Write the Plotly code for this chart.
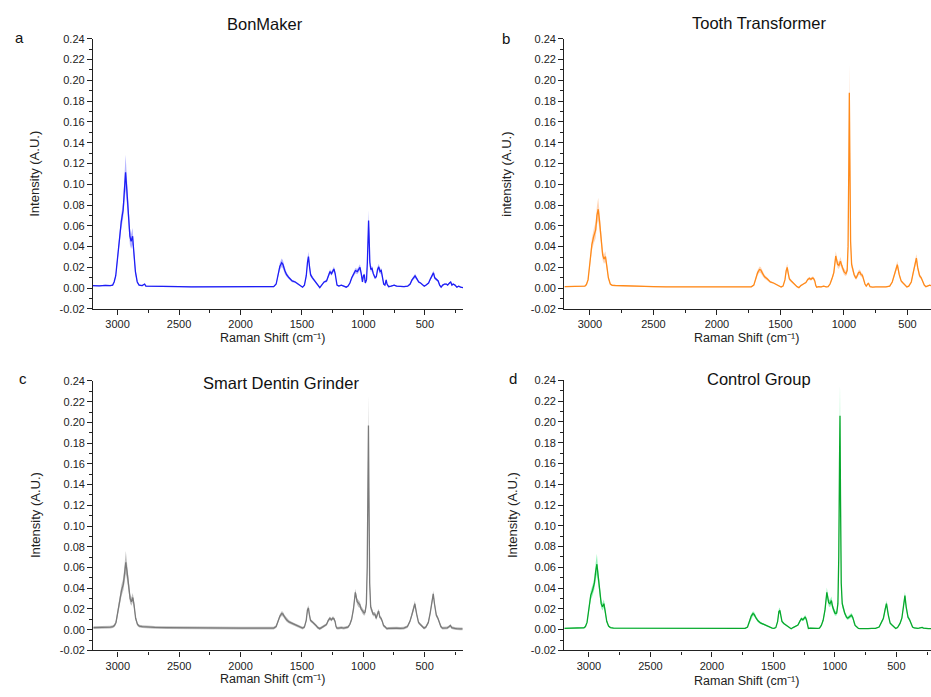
import plotly.graph_objects as go

# ---------------- data ----------------
wavenumber = [
    3200, 3150, 3100, 3060, 3040, 3028, 3015, 3000, 2985, 2970,
    2955, 2945, 2935, 2925, 2912, 2900, 2890, 2878, 2868, 2855,
    2840, 2825, 2800, 2780, 2770, 2700, 2600, 2500, 2400, 2300,
    2200, 2100, 2000, 1900, 1800, 1730, 1710, 1695, 1680, 1665,
    1655, 1640, 1625, 1605, 1580, 1555, 1530, 1510, 1495, 1480,
    1465, 1455, 1447, 1440, 1430, 1415, 1400, 1385, 1370, 1355,
    1340, 1320, 1300, 1285, 1272, 1260, 1250, 1240, 1230, 1222,
    1215, 1200, 1180, 1160, 1140, 1125, 1110, 1095, 1080, 1065,
    1050, 1040, 1028, 1018, 1008, 1000, 993, 985, 975, 968,
    962, 958, 954, 948, 940, 930, 920, 905, 895, 885,
    875, 865, 855, 845, 835, 825, 815, 808, 795, 775,
    750, 730, 700, 670, 640, 620, 605, 590, 580, 565,
    550, 535, 520, 505, 490, 470, 455, 440, 430, 420,
    405, 392, 380, 368, 355, 340, 325, 315, 300, 290,
    280, 270, 255, 240, 225, 210, 190,
]

bonmaker_mean = [
    0.0025, 0.0022, 0.0028, 0.0024, 0.0030, 0.0060, 0.0120, 0.0300, 0.0500, 0.0640,
    0.0750, 0.0950, 0.1115, 0.0950, 0.0700, 0.0500, 0.0450, 0.0500, 0.0350, 0.0160,
    0.0060, 0.0030, 0.0025, 0.0040, 0.0020, 0.0020, 0.0018, 0.0015, 0.0012, 0.0012,
    0.0015, 0.0015, 0.0015, 0.0015, 0.0013, 0.0015, 0.0040, 0.0120, 0.0210, 0.0245,
    0.0230, 0.0170, 0.0130, 0.0100, 0.0070, 0.0060, 0.0040, 0.0020, 0.0010, 0.0030,
    0.0120, 0.0250, 0.0305, 0.0220, 0.0130, 0.0100, 0.0080, 0.0050, 0.0030, 0.0005,
    0.0030, 0.0060, 0.0070, 0.0120, 0.0160, 0.0140, 0.0170, 0.0185, 0.0140, 0.0060,
    0.0030, 0.0020, 0.0030, 0.0020, 0.0010, 0.0020, 0.0050, 0.0100, 0.0140, 0.0170,
    0.0160, 0.0180, 0.0200, 0.0140, 0.0060, 0.0120, 0.0130, 0.0050, 0.0080, 0.0250,
    0.0500, 0.0650, 0.0500, 0.0250, 0.0180, 0.0190, 0.0140, 0.0100, 0.0110, 0.0180,
    0.0205, 0.0160, 0.0170, 0.0100, 0.0040, 0.0030, 0.0080, 0.0040, 0.0015, 0.0020,
    0.0030, 0.0020, 0.0015, 0.0015, 0.0020, 0.0040, 0.0080, 0.0110, 0.0118, 0.0090,
    0.0060, 0.0050, 0.0030, 0.0020, 0.0030, 0.0050, 0.0090, 0.0130, 0.0148, 0.0100,
    0.0080, 0.0070, 0.0030, 0.0010, 0.0030, 0.0040, 0.0040, 0.0030, 0.0050, 0.0060,
    0.0030, 0.0040, 0.0030, 0.0010, 0.0020, 0.0010, 0.0005,
]
bonmaker_sd = [
    0.0006, 0.0006, 0.0006, 0.0006, 0.0006, 0.0010, 0.0020, 0.0040, 0.0060, 0.0070,
    0.0080, 0.0120, 0.0170, 0.0130, 0.0100, 0.0080, 0.0070, 0.0080, 0.0060, 0.0030,
    0.0012, 0.0008, 0.0006, 0.0006, 0.0006, 0.0006, 0.0006, 0.0006, 0.0006, 0.0006,
    0.0006, 0.0006, 0.0006, 0.0006, 0.0006, 0.0006, 0.0008, 0.0020, 0.0035, 0.0040,
    0.0040, 0.0030, 0.0020, 0.0015, 0.0012, 0.0010, 0.0008, 0.0006, 0.0006, 0.0006,
    0.0020, 0.0040, 0.0045, 0.0035, 0.0020, 0.0015, 0.0012, 0.0010, 0.0008, 0.0006,
    0.0006, 0.0010, 0.0012, 0.0018, 0.0022, 0.0020, 0.0022, 0.0025, 0.0020, 0.0010,
    0.0006, 0.0006, 0.0006, 0.0006, 0.0006, 0.0006, 0.0010, 0.0015, 0.0020, 0.0025,
    0.0025, 0.0028, 0.0030, 0.0022, 0.0010, 0.0015, 0.0015, 0.0010, 0.0015, 0.0040,
    0.0070, 0.0100, 0.0070, 0.0040, 0.0025, 0.0025, 0.0020, 0.0015, 0.0015, 0.0025,
    0.0030, 0.0025, 0.0025, 0.0015, 0.0008, 0.0006, 0.0010, 0.0008, 0.0006, 0.0006,
    0.0006, 0.0006, 0.0006, 0.0006, 0.0006, 0.0008, 0.0012, 0.0018, 0.0020, 0.0015,
    0.0010, 0.0008, 0.0006, 0.0006, 0.0006, 0.0008, 0.0014, 0.0020, 0.0022, 0.0016,
    0.0012, 0.0010, 0.0006, 0.0006, 0.0006, 0.0008, 0.0008, 0.0006, 0.0008, 0.0010,
    0.0006, 0.0006, 0.0006, 0.0006, 0.0006, 0.0006, 0.0006,
]

tooth_mean = [
    0.0015, 0.0015, 0.0016, 0.0016, 0.0020, 0.0035, 0.0080, 0.0250, 0.0420, 0.0500,
    0.0560, 0.0700, 0.0760, 0.0650, 0.0450, 0.0320, 0.0280, 0.0305, 0.0220, 0.0100,
    0.0040, 0.0028, 0.0026, 0.0025, 0.0024, 0.0022, 0.0018, 0.0015, 0.0013, 0.0012,
    0.0012, 0.0012, 0.0012, 0.0012, 0.0012, 0.0013, 0.0030, 0.0090, 0.0150, 0.0180,
    0.0175, 0.0140, 0.0110, 0.0090, 0.0060, 0.0050, 0.0035, 0.0020, 0.0012, 0.0020,
    0.0080, 0.0170, 0.0200, 0.0150, 0.0090, 0.0070, 0.0050, 0.0030, 0.0015, 0.0005,
    0.0025, 0.0040, 0.0055, 0.0085, 0.0095, 0.0085, 0.0098, 0.0095, 0.0070, 0.0025,
    0.0010, 0.0015, 0.0012, 0.0020, 0.0012, 0.0015, 0.0040, 0.0090, 0.0150, 0.0310,
    0.0230, 0.0220, 0.0260, 0.0220, 0.0170, 0.0160, 0.0150, 0.0140, 0.0170, 0.0400,
    0.1200, 0.1880, 0.1300, 0.0450, 0.0230, 0.0185, 0.0130, 0.0095, 0.0120, 0.0150,
    0.0155, 0.0130, 0.0125, 0.0080, 0.0040, 0.0020, 0.0040, 0.0050, 0.0015, 0.0010,
    0.0012, 0.0010, 0.0012, 0.0012, 0.0020, 0.0060, 0.0120, 0.0200, 0.0227, 0.0130,
    0.0070, 0.0050, 0.0030, 0.0012, 0.0020, 0.0060, 0.0150, 0.0240, 0.0290, 0.0200,
    0.0120, 0.0100, 0.0060, 0.0030, 0.0015, 0.0020, 0.0030, 0.0025, 0.0020, 0.0015,
    0.0015, 0.0015, 0.0012, 0.0012, 0.0010, 0.0010, 0.0010,
]
tooth_sd = [
    0.0005, 0.0005, 0.0005, 0.0005, 0.0006, 0.0008, 0.0015, 0.0040, 0.0060, 0.0070,
    0.0080, 0.0090, 0.0110, 0.0090, 0.0070, 0.0050, 0.0045, 0.0050, 0.0035, 0.0015,
    0.0008, 0.0006, 0.0005, 0.0005, 0.0005, 0.0005, 0.0005, 0.0005, 0.0005, 0.0005,
    0.0005, 0.0005, 0.0005, 0.0005, 0.0005, 0.0005, 0.0008, 0.0015, 0.0025, 0.0030,
    0.0030, 0.0025, 0.0018, 0.0015, 0.0010, 0.0008, 0.0006, 0.0005, 0.0005, 0.0005,
    0.0012, 0.0030, 0.0035, 0.0025, 0.0015, 0.0012, 0.0008, 0.0006, 0.0005, 0.0005,
    0.0005, 0.0006, 0.0008, 0.0012, 0.0015, 0.0013, 0.0015, 0.0015, 0.0012, 0.0006,
    0.0005, 0.0005, 0.0005, 0.0005, 0.0005, 0.0005, 0.0008, 0.0015, 0.0025, 0.0045,
    0.0035, 0.0035, 0.0040, 0.0035, 0.0030, 0.0030, 0.0028, 0.0025, 0.0030, 0.0060,
    0.0180, 0.0280, 0.0200, 0.0070, 0.0035, 0.0030, 0.0022, 0.0016, 0.0020, 0.0025,
    0.0025, 0.0022, 0.0020, 0.0014, 0.0008, 0.0005, 0.0008, 0.0008, 0.0005, 0.0005,
    0.0005, 0.0005, 0.0005, 0.0005, 0.0005, 0.0010, 0.0020, 0.0030, 0.0035, 0.0020,
    0.0012, 0.0008, 0.0006, 0.0005, 0.0005, 0.0010, 0.0022, 0.0035, 0.0040, 0.0030,
    0.0020, 0.0015, 0.0010, 0.0006, 0.0005, 0.0005, 0.0005, 0.0005, 0.0005, 0.0005,
    0.0005, 0.0005, 0.0005, 0.0005, 0.0005, 0.0005, 0.0005,
]

grinder_mean = [
    0.0020, 0.0022, 0.0020, 0.0025, 0.0030, 0.0040, 0.0070, 0.0180, 0.0300, 0.0380,
    0.0440, 0.0560, 0.0650, 0.0560, 0.0400, 0.0300, 0.0270, 0.0310, 0.0240, 0.0110,
    0.0050, 0.0035, 0.0030, 0.0028, 0.0025, 0.0022, 0.0020, 0.0018, 0.0016, 0.0016,
    0.0015, 0.0015, 0.0015, 0.0015, 0.0014, 0.0015, 0.0030, 0.0080, 0.0130, 0.0155,
    0.0150, 0.0120, 0.0095, 0.0075, 0.0060, 0.0045, 0.0030, 0.0020, 0.0015, 0.0025,
    0.0090, 0.0190, 0.0210, 0.0150, 0.0090, 0.0075, 0.0060, 0.0040, 0.0020, 0.0010,
    0.0020, 0.0035, 0.0050, 0.0090, 0.0110, 0.0095, 0.0110, 0.0108, 0.0080, 0.0030,
    0.0015, 0.0015, 0.0020, 0.0015, 0.0020, 0.0025, 0.0050, 0.0100, 0.0200, 0.0360,
    0.0270, 0.0250, 0.0240, 0.0200, 0.0180, 0.0170, 0.0160, 0.0170, 0.0250, 0.0600,
    0.1400, 0.1970, 0.1300, 0.0450, 0.0220, 0.0180, 0.0150, 0.0150, 0.0110, 0.0150,
    0.0180, 0.0120, 0.0110, 0.0080, 0.0040, 0.0030, 0.0015, 0.0010, 0.0012, 0.0015,
    0.0012, 0.0015, 0.0012, 0.0015, 0.0030, 0.0080, 0.0140, 0.0220, 0.0250, 0.0150,
    0.0070, 0.0050, 0.0035, 0.0015, 0.0025, 0.0070, 0.0160, 0.0300, 0.0345, 0.0250,
    0.0140, 0.0110, 0.0060, 0.0030, 0.0015, 0.0015, 0.0015, 0.0018, 0.0030, 0.0040,
    0.0020, 0.0015, 0.0012, 0.0010, 0.0012, 0.0008, 0.0008,
]
grinder_sd = [
    0.0013, 0.0013, 0.0013, 0.0013, 0.0013, 0.0015, 0.0020, 0.0035, 0.0050, 0.0055,
    0.0060, 0.0080, 0.0110, 0.0080, 0.0060, 0.0045, 0.0040, 0.0045, 0.0035, 0.0020,
    0.0015, 0.0013, 0.0013, 0.0013, 0.0013, 0.0013, 0.0013, 0.0013, 0.0013, 0.0013,
    0.0013, 0.0013, 0.0013, 0.0013, 0.0013, 0.0013, 0.0013, 0.0015, 0.0020, 0.0022,
    0.0022, 0.0020, 0.0018, 0.0015, 0.0013, 0.0013, 0.0013, 0.0013, 0.0013, 0.0013,
    0.0015, 0.0022, 0.0025, 0.0020, 0.0015, 0.0013, 0.0013, 0.0013, 0.0013, 0.0013,
    0.0013, 0.0013, 0.0013, 0.0015, 0.0016, 0.0015, 0.0016, 0.0016, 0.0014, 0.0013,
    0.0013, 0.0013, 0.0013, 0.0013, 0.0013, 0.0013, 0.0013, 0.0018, 0.0025, 0.0035,
    0.0030, 0.0030, 0.0030, 0.0028, 0.0025, 0.0025, 0.0025, 0.0025, 0.0030, 0.0060,
    0.0200, 0.0300, 0.0200, 0.0060, 0.0030, 0.0025, 0.0020, 0.0020, 0.0018, 0.0020,
    0.0022, 0.0018, 0.0016, 0.0014, 0.0013, 0.0013, 0.0013, 0.0013, 0.0013, 0.0013,
    0.0013, 0.0013, 0.0013, 0.0013, 0.0013, 0.0014, 0.0020, 0.0025, 0.0030, 0.0020,
    0.0015, 0.0013, 0.0013, 0.0013, 0.0013, 0.0014, 0.0020, 0.0030, 0.0030, 0.0025,
    0.0018, 0.0015, 0.0013, 0.0013, 0.0013, 0.0013, 0.0013, 0.0013, 0.0013, 0.0013,
    0.0013, 0.0013, 0.0013, 0.0013, 0.0013, 0.0013, 0.0013,
]

control_mean = [
    0.0013, 0.0013, 0.0013, 0.0015, 0.0018, 0.0030, 0.0070, 0.0200, 0.0330, 0.0380,
    0.0450, 0.0560, 0.0630, 0.0520, 0.0350, 0.0250, 0.0220, 0.0250, 0.0180, 0.0080,
    0.0035, 0.0020, 0.0015, 0.0015, 0.0015, 0.0014, 0.0013, 0.0012, 0.0012, 0.0012,
    0.0012, 0.0012, 0.0012, 0.0012, 0.0012, 0.0012, 0.0025, 0.0070, 0.0130, 0.0155,
    0.0145, 0.0110, 0.0085, 0.0065, 0.0050, 0.0040, 0.0025, 0.0015, 0.0012, 0.0020,
    0.0080, 0.0175, 0.0186, 0.0130, 0.0080, 0.0060, 0.0045, 0.0030, 0.0015, 0.0008,
    0.0020, 0.0035, 0.0045, 0.0080, 0.0105, 0.0095, 0.0115, 0.0123, 0.0090, 0.0030,
    0.0012, 0.0015, 0.0012, 0.0015, 0.0012, 0.0015, 0.0040, 0.0090, 0.0190, 0.0360,
    0.0260, 0.0250, 0.0280, 0.0220, 0.0180, 0.0160, 0.0155, 0.0160, 0.0250, 0.0700,
    0.1600, 0.2060, 0.1300, 0.0450, 0.0250, 0.0190, 0.0160, 0.0120, 0.0110, 0.0120,
    0.0130, 0.0139, 0.0120, 0.0063, 0.0040, 0.0030, 0.0016, 0.0012, 0.0010, 0.0012,
    0.0012, 0.0010, 0.0012, 0.0012, 0.0025, 0.0070, 0.0110, 0.0200, 0.0250, 0.0140,
    0.0063, 0.0045, 0.0030, 0.0012, 0.0020, 0.0060, 0.0110, 0.0260, 0.0328, 0.0220,
    0.0120, 0.0095, 0.0050, 0.0025, 0.0016, 0.0012, 0.0013, 0.0015, 0.0020, 0.0022,
    0.0015, 0.0012, 0.0012, 0.0010, 0.0010, 0.0010, 0.0010,
]
control_sd = [
    0.0005, 0.0005, 0.0005, 0.0005, 0.0005, 0.0008, 0.0012, 0.0030, 0.0045, 0.0050,
    0.0055, 0.0080, 0.0100, 0.0070, 0.0050, 0.0040, 0.0035, 0.0040, 0.0030, 0.0012,
    0.0006, 0.0005, 0.0005, 0.0005, 0.0005, 0.0005, 0.0005, 0.0005, 0.0005, 0.0005,
    0.0005, 0.0005, 0.0005, 0.0005, 0.0005, 0.0005, 0.0006, 0.0012, 0.0020, 0.0022,
    0.0022, 0.0018, 0.0014, 0.0010, 0.0008, 0.0006, 0.0005, 0.0005, 0.0005, 0.0005,
    0.0012, 0.0025, 0.0028, 0.0020, 0.0012, 0.0010, 0.0008, 0.0006, 0.0005, 0.0005,
    0.0005, 0.0006, 0.0008, 0.0012, 0.0015, 0.0014, 0.0016, 0.0017, 0.0014, 0.0006,
    0.0005, 0.0005, 0.0005, 0.0005, 0.0005, 0.0005, 0.0008, 0.0015, 0.0028, 0.0045,
    0.0035, 0.0035, 0.0038, 0.0030, 0.0025, 0.0024, 0.0022, 0.0022, 0.0035, 0.0090,
    0.0220, 0.0320, 0.0200, 0.0060, 0.0035, 0.0028, 0.0022, 0.0018, 0.0016, 0.0018,
    0.0020, 0.0022, 0.0020, 0.0012, 0.0007, 0.0005, 0.0005, 0.0005, 0.0005, 0.0005,
    0.0005, 0.0005, 0.0005, 0.0005, 0.0005, 0.0010, 0.0016, 0.0028, 0.0030, 0.0020,
    0.0010, 0.0008, 0.0006, 0.0005, 0.0005, 0.0010, 0.0016, 0.0032, 0.0038, 0.0030,
    0.0018, 0.0014, 0.0008, 0.0005, 0.0005, 0.0005, 0.0005, 0.0005, 0.0005, 0.0005,
    0.0005, 0.0005, 0.0005, 0.0005, 0.0005, 0.0005, 0.0005,
]

panel_titles = ["BonMaker", "Tooth Transformer", "Smart Dentin Grinder", "Control Group"]
panel_letters = ["a", "b", "c", "d"]
y_titles = ["Intensity (A.U.)", "intensity (A.U.)", "Intensity (A.U.)", "Intensity (A.U.)"]
x_title = "Raman Shift (cm\u207b\u00b9)"
y_ticks = [-0.02, 0.00, 0.02, 0.04, 0.06, 0.08, 0.10, 0.12, 0.14, 0.16, 0.18, 0.20, 0.22, 0.24]
x_ticks = [3000, 2500, 2000, 1500, 1000, 500]

# ---------------- styling / layout ----------------
W, H = 931, 697
FONT = "Liberation Sans, Arial, sans-serif"

means = [bonmaker_mean, tooth_mean, grinder_mean, control_mean]
sds = [bonmaker_sd, tooth_sd, grinder_sd, control_sd]
line_colors = ["#1e1ef5", "#ff8a1a", "#7a7a7a", "#08a82c"]
band_colors = ["rgba(110,110,255,0.50)", "rgba(255,165,100,0.45)",
               "rgba(150,150,150,0.60)", "rgba(60,235,125,0.55)"]

# plot-area boxes in pixels: (left, right, top, bottom) and x ranges
boxes = [(93, 463, 33.3, 308.3), (564.3, 931, 33.3, 308.3),
         (93.3, 462.7, 381.5, 655.7), (564.3, 931, 381.0, 655.7)]
x_ranges = [[3200, 190], [3202, 315], [3200, 190], [3200, 218]]

fig = go.Figure()
layout = dict(
    width=W, height=H, margin=dict(l=0, r=0, t=0, b=0),
    paper_bgcolor="white", plot_bgcolor="white", showlegend=False,
    font=dict(family=FONT, color="#222222"),
)

for i in range(4):
    xa = "x" if i == 0 else f"x{i+1}"
    ya = "y" if i == 0 else f"y{i+1}"
    m, s = means[i], sds[i]
    lower = [a - b for a, b in zip(m, s)]
    upper = [a + b for a, b in zip(m, s)]
    fig.add_trace(go.Scatter(x=wavenumber, y=lower, mode="lines", line=dict(width=0, color=band_colors[i]),
                             xaxis=xa, yaxis=ya, hoverinfo="skip"))
    fig.add_trace(go.Scatter(x=wavenumber, y=upper, mode="lines", line=dict(width=0, color=band_colors[i]),
                             fill="tonexty", fillcolor=band_colors[i], xaxis=xa, yaxis=ya, hoverinfo="skip"))
    fig.add_trace(go.Scatter(x=wavenumber, y=m, mode="lines", line=dict(width=1.3, color=line_colors[i]),
                             xaxis=xa, yaxis=ya))

    l, r, t, b = boxes[i]
    xkey = "xaxis" if i == 0 else f"xaxis{i+1}"
    ykey = "yaxis" if i == 0 else f"yaxis{i+1}"
    layout[xkey] = dict(
        domain=[l / W, r / W], anchor=ya, range=x_ranges[i],
        tickvals=x_ticks, ticktext=[str(v) for v in x_ticks],
        ticks="outside", ticklen=5, tickwidth=1, tickcolor="#222",
        minor=dict(ticks="outside", ticklen=3, tickwidth=1, tickcolor="#222", dtick=250, tick0=0),
        showline=True, linecolor="#222", linewidth=1.3, showgrid=False, zeroline=False,
        tickfont=dict(size=11, family=FONT, color="#222"),
    )
    layout[ykey] = dict(
        domain=[1 - b / H, 1 - t / H], anchor=xa, range=[-0.02, 0.24],
        tickvals=y_ticks, ticktext=[f"{v:.2f}" for v in y_ticks],
        ticks="outside", ticklen=5, tickwidth=1, tickcolor="#222",
        minor=dict(ticks="outside", ticklen=3, tickwidth=1, tickcolor="#222", dtick=0.01, tick0=0),
        showline=True, linecolor="#222", linewidth=1.3, showgrid=False, zeroline=False,
        tickfont=dict(size=11, family=FONT, color="#222"),
    )

fig.update_layout(**layout)

# ---------------- text annotations ----------------
title_pos = [(265, 18.3), (759, 17.3), (281, 383.3), (759, 380)]
letter_pos = [(19, 31.7), (506, 33.3), (23, 379.3), (513, 379.3)]
ytitle_pos = [(35, 170.7), (507, 170.7), (35, 518), (512, 518)]
xtitle_pos = [(272, 338), (746, 338), (272, 685), (746, 686.5)]

ann = []
for i in range(4):
    ann.append(dict(text=panel_titles[i], x=title_pos[i][0] / W, y=1 - title_pos[i][1] / H,
                    xref="paper", yref="paper", showarrow=False, xanchor="center", yanchor="middle",
                    font=dict(size=16.5, family=FONT, color="#111")))
    ann.append(dict(text=panel_letters[i], x=letter_pos[i][0] / W, y=1 - letter_pos[i][1] / H,
                    xref="paper", yref="paper", showarrow=False, xanchor="center", yanchor="middle",
                    font=dict(size=15, family=FONT, color="#111")))
    ann.append(dict(text=y_titles[i], x=ytitle_pos[i][0] / W, y=1 - ytitle_pos[i][1] / H,
                    xref="paper", yref="paper", showarrow=False, xanchor="center", yanchor="middle",
                    textangle=-90, font=dict(size=13, family=FONT, color="#222")))
    ann.append(dict(text=x_title, x=xtitle_pos[i][0] / W, y=1 - xtitle_pos[i][1] / H,
                    xref="paper", yref="paper", showarrow=False, xanchor="center", yanchor="middle",
                    font=dict(size=12.5, family=FONT, color="#222")))
fig.update_layout(annotations=ann)

fig.write_html("out.html")
